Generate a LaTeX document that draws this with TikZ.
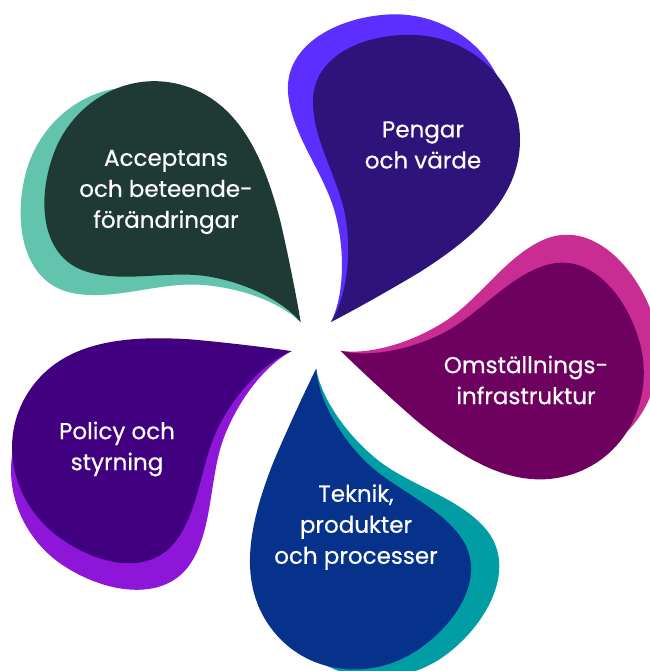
\documentclass[tikz,border=0pt]{standalone}
\usepackage{fontspec}
\setmainfont{Poppins}
\newfontfamily\lblfont{Poppins}[FakeBold=0.5]
\definecolor{pengarD}{RGB}{46,20,122}
\definecolor{pengarL}{RGB}{92,46,255}
\definecolor{accD}{RGB}{31,58,52}
\definecolor{accL}{RGB}{98,196,172}
\definecolor{polD}{RGB}{65,0,127}
\definecolor{polL}{RGB}{142,22,216}
\definecolor{tekD}{RGB}{6,50,140}
\definecolor{tekL}{RGB}{0,158,164}
\definecolor{omsD}{RGB}{110,0,96}
\definecolor{omsL}{RGB}{201,44,146}
\newcommand{\petalshape}[1]{%
  \fill[#1] (331,322) .. controls (345,300) and (352,260) .. (346,220)
    .. controls (340,180) and (312,140) .. (313,100)
    .. controls (314,55) and (365,33) .. (415,35)
    .. controls (470,37) and (520,80) .. (520,140)
    .. controls (520,200) and (470,240) .. (420,272)
    .. controls (385,293) and (345,315) .. (331,322) -- cycle;}
\newcommand{\petal}[3]{%
  \begin{scope}[rotate around={#1:(316,343)}]
    \begin{scope}[shift={(331,322)}, rotate=6, scale=1.045, shift={(-331,-322)}]
      \petalshape{#3}
    \end{scope}
    \petalshape{#2}
  \end{scope}}
\tikzset{lbl/.style={text=white, align=center, font=\lblfont\fontsize{23}{31}\selectfont}}
\begin{document}
\begin{tikzpicture}[x=1pt,y=-1pt]
\fill[white] (0,0) rectangle (649,671);
\useasboundingbox (0,0) rectangle (649,671);
\petal{0}{pengarD}{pengarL}
\petal{72}{accD}{accL}
\petal{144}{polD}{polL}
\petal{216}{tekD}{tekL}
\petal{288}{omsD}{omsL}
\node[lbl] (pengar) at (423,145) {Pengar\\och värde};
\node[lbl] (acc) at (166,192) {Acceptans\\och beteende-\\förändringar};
\node[lbl] (oms) at (526,380) {Omställnings-\\infrastruktur};
\node[lbl] (tek) at (356,527) {Teknik,\\produkter\\och processer};
\node[lbl] (pol) at (117,449) {Policy och\\styrning};
\end{tikzpicture}
\end{document}
